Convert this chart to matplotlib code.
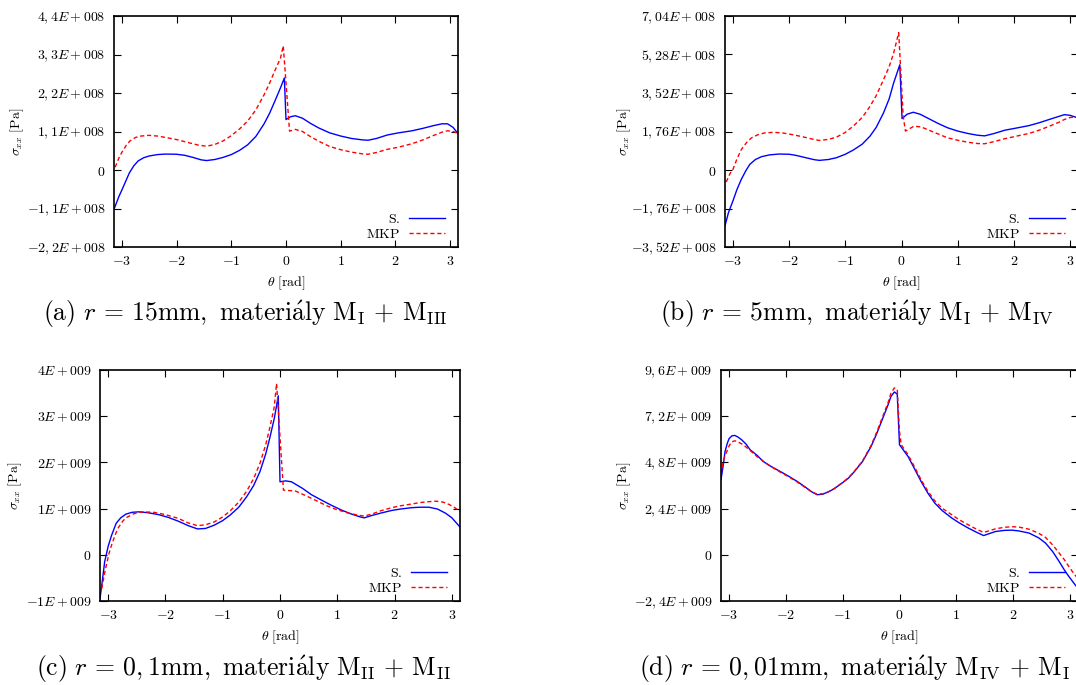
import numpy as np
import matplotlib
matplotlib.use('Agg')
import matplotlib.pyplot as plt

plt.rcParams['mathtext.fontset'] = 'cm'
plt.rcParams['font.family'] = ['DejaVu Serif']

# theta [rad], sigma_xx (units given by scale below)
a_S_th = [-3.1416, -3.05, -3.0, -2.93, -2.86, -2.78, -2.7, -2.6, -2.5, -2.35, -2.2, -2.0, -1.85, -1.7,
          -1.55, -1.45, -1.3, -1.15, -1.0, -0.85, -0.7, -0.55, -0.4, -0.3, -0.2, -0.1, -0.03, 0.0,
          0.08, 0.17, 0.3, 0.45, 0.6, 0.8, 1.0, 1.2, 1.4, 1.5, 1.65, 1.85, 2.05, 2.3, 2.5, 2.7,
          2.85, 2.95, 3.05, 3.1416]
a_S = [-1.12, -0.75, -0.58, -0.33, -0.08, 0.12, 0.26, 0.35, 0.40, 0.44, 0.455, 0.45, 0.42, 0.36,
       0.29, 0.27, 0.30, 0.36, 0.44, 0.56, 0.72, 0.96, 1.32, 1.62, 1.98, 2.35, 2.63, 1.44,
       1.52, 1.55, 1.48, 1.33, 1.2, 1.06, 0.97, 0.9, 0.86, 0.85, 0.9, 1.0, 1.06, 1.12, 1.19, 1.27,
       1.32, 1.32, 1.22, 1.04]
a_M_th = [-3.12, -3.05, -3.0, -2.92, -2.85, -2.75, -2.65, -2.5, -2.35, -2.2, -2.0, -1.8, -1.6, -1.45,
          -1.3, -1.15, -1.0, -0.85, -0.7, -0.55, -0.4, -0.3, -0.2, -0.1, -0.05, 0.065, 0.17, 0.3,
          0.45, 0.6, 0.8, 1.0, 1.2, 1.4, 1.5, 1.65, 1.85, 2.05, 2.3, 2.5, 2.7, 2.85, 2.95, 3.05, 3.1416]
a_M = [0.08, 0.35, 0.5, 0.7, 0.83, 0.93, 0.97, 0.99, 0.97, 0.93, 0.87, 0.79, 0.71, 0.68,
       0.73, 0.83, 0.98, 1.17, 1.4, 1.72, 2.15, 2.48, 2.85, 3.2, 3.55, 1.11, 1.16, 1.1,
       0.95, 0.82, 0.67, 0.58, 0.51, 0.46, 0.45, 0.5, 0.59, 0.65, 0.75, 0.86, 0.99, 1.08, 1.12, 1.1, 1.05]

b_S_th = [-3.1416, -3.08, -3.0, -2.93, -2.85, -2.77, -2.7, -2.6, -2.49, -2.35, -2.18, -2.0, -1.88, -1.7,
          -1.55, -1.46, -1.3, -1.16, -1.0, -0.86, -0.7, -0.56, -0.45, -0.32, -0.22, -0.14, -0.03, 0.01,
          0.1, 0.21, 0.33, 0.46, 0.65, 0.82, 1.0, 1.18, 1.35, 1.48, 1.65, 1.84, 2.05, 2.27, 2.45, 2.63,
          2.8, 2.9, 3.0, 3.1416]
b_S = [-2.55, -1.95, -1.41, -0.9, -0.42, -0.03, 0.26, 0.48, 0.61, 0.69, 0.73, 0.72, 0.67, 0.56,
       0.47, 0.44, 0.48, 0.56, 0.72, 0.91, 1.18, 1.55, 1.95, 2.61, 3.25, 3.98, 4.81, 2.35,
       2.55, 2.64, 2.55, 2.38, 2.13, 1.93, 1.78, 1.67, 1.59, 1.56, 1.67, 1.82, 1.92, 2.03, 2.16, 2.31,
       2.45, 2.53, 2.5, 2.38]
b_M_th = [-3.12, -3.05, -3.0, -2.93, -2.85, -2.75, -2.67, -2.55, -2.43, -2.28, -2.13, -1.95, -1.76, -1.6,
          -1.46, -1.3, -1.16, -1.0, -0.86, -0.7, -0.56, -0.45, -0.32, -0.22, -0.14, -0.05, 0.03, 0.07,
          0.22, 0.35, 0.46, 0.65, 0.82, 1.0, 1.18, 1.35, 1.48, 1.65, 1.84, 2.05, 2.27, 2.45, 2.63,
          2.8, 2.9, 3.0, 3.1416]
b_M = [-0.55, -0.15, 0.03, 0.5, 0.94, 1.28, 1.47, 1.62, 1.70, 1.72, 1.70, 1.62, 1.52, 1.42,
       1.35, 1.40, 1.50, 1.72, 2.0, 2.4, 2.91, 3.4, 4.13, 4.72, 5.34, 6.28, 2.46, 1.78,
       2.0, 1.97, 1.85, 1.65, 1.47, 1.36, 1.27, 1.21, 1.2, 1.3, 1.43, 1.55, 1.67, 1.82, 2.0,
       2.18, 2.31, 2.4, 2.43]

c_S_th = [-3.1416, -3.1, -3.06, -3.0, -2.94, -2.86, -2.78, -2.69, -2.58, -2.46, -2.3, -2.12, -1.95, -1.78,
          -1.6, -1.44, -1.3, -1.15, -1.0, -0.87, -0.72, -0.58, -0.46, -0.35, -0.25, -0.18, -0.1, -0.03,
          0.0, 0.1, 0.2, 0.39, 0.55, 0.73, 0.9, 1.07, 1.25, 1.4, 1.47, 1.6, 1.75, 1.95, 2.1, 2.3, 2.44,
          2.6, 2.75, 2.89, 3.0, 3.1416]
c_S = [-0.95, -0.55, -0.15, 0.18, 0.42, 0.68, 0.8, 0.88, 0.92, 0.93, 0.91, 0.87, 0.81, 0.73,
       0.63, 0.56, 0.57, 0.64, 0.74, 0.86, 1.03, 1.26, 1.5, 1.80, 2.18, 2.52, 2.95, 3.44,
       1.58, 1.6, 1.58, 1.44, 1.3, 1.18, 1.07, 0.97, 0.88, 0.82, 0.80, 0.85, 0.90, 0.96, 0.99, 1.02, 1.03,
       1.03, 0.99, 0.9, 0.8, 0.6]
c_M_th = [-3.11, -3.07, -3.03, -2.98, -2.94, -2.88, -2.83, -2.75, -2.69, -2.55, -2.4, -2.2, -2.0, -1.78,
          -1.6, -1.44, -1.3, -1.15, -1.0, -0.87, -0.72, -0.58, -0.46, -0.35, -0.25, -0.18, -0.1, -0.06,
          0.06, 0.27, 0.45, 0.62, 0.8, 0.96, 1.2, 1.4, 1.47, 1.6, 1.75, 1.95, 2.1, 2.3, 2.44, 2.6,
          2.72, 2.85, 2.95, 3.05, 3.1416]
c_M = [-0.73, -0.45, -0.22, 0.05, 0.21, 0.42, 0.57, 0.72, 0.80, 0.89, 0.93, 0.92, 0.87, 0.79,
       0.69, 0.63, 0.65, 0.71, 0.82, 0.95, 1.14, 1.38, 1.65, 1.98, 2.38, 2.74, 3.2, 3.71,
       1.40, 1.38, 1.28, 1.18, 1.07, 0.99, 0.9, 0.85, 0.84, 0.88, 0.95, 1.02, 1.06, 1.1, 1.13, 1.15,
       1.16, 1.14, 1.09, 1.02, 0.94]

d_S_th = [-3.1416, -3.1, -3.07, -3.03, -3.0, -2.95, -2.9, -2.85, -2.78, -2.7, -2.63, -2.5, -2.4, -2.25,
          -2.1, -1.95, -1.8, -1.65, -1.55, -1.45, -1.35, -1.25, -1.15, -1.0, -0.9, -0.8, -0.65, -0.5,
          -0.4, -0.27, -0.2, -0.15, -0.09, -0.04, 0.0, 0.15, 0.25, 0.38, 0.5, 0.62, 0.75, 0.92, 1.05,
          1.21, 1.35, 1.48, 1.58, 1.69, 1.85, 1.98, 2.1, 2.28, 2.45, 2.57, 2.7, 2.81, 2.9, 2.96,
          3.05, 3.1416]
d_S = [3.9, 4.7, 5.37, 5.8, 6.03, 6.18, 6.2, 6.13, 5.98, 5.75, 5.46, 5.15, 4.85, 4.57,
       4.33, 4.08, 3.81, 3.5, 3.28, 3.12, 3.15, 3.27, 3.43, 3.75, 3.98, 4.3, 4.85, 5.63,
       6.3, 7.28, 7.8, 8.23, 8.46, 8.35, 5.72, 5.11, 4.55, 3.81, 3.2, 2.69, 2.3, 1.91, 1.66,
       1.39, 1.18, 1.0, 1.1, 1.21, 1.27, 1.28, 1.24, 1.13, 0.88, 0.61, 0.15, -0.35, -0.78, -1.04,
       -1.4, -1.75]
d_M_th = [-3.1416, -3.1, -3.05, -3.0, -2.96, -2.9, -2.87, -2.75, -2.63, -2.51, -2.3, -2.1, -1.95, -1.8,
          -1.65, -1.55, -1.45, -1.35, -1.25, -1.15, -1.0, -0.9, -0.8, -0.65, -0.5, -0.4, -0.27, -0.2,
          -0.15, -0.09, -0.04, 0.0, 0.03, 0.15, 0.25, 0.38, 0.5, 0.62, 0.75, 0.92, 1.05, 1.21, 1.35,
          1.48, 1.58, 1.69, 1.85, 1.98, 2.1, 2.28, 2.45, 2.57, 2.7, 2.81, 2.9, 2.96, 3.05, 3.1416]
d_M = [4.2, 4.9, 5.29, 5.65, 5.86, 5.92, 5.9, 5.72, 5.42, 5.11, 4.65, 4.3, 4.05, 3.78,
       3.48, 3.28, 3.15, 3.17, 3.28, 3.44, 3.76, 4.0, 4.32, 4.88, 5.68, 6.38, 7.38, 7.92,
       8.4, 8.67, 8.6, 6.41, 5.72, 5.2, 4.65, 3.9, 3.3, 2.81, 2.42, 2.08, 1.82, 1.56, 1.34,
       1.16, 1.25, 1.35, 1.43, 1.46, 1.44, 1.33, 1.12, 0.9, 0.5, 0.09, -0.25, -0.52, -0.9, -1.25]

scales = [1e8, 1e8, 1e9, 1e9]
yticks = [[-2.2, -1.1, 0, 1.1, 2.2, 3.3, 4.4],
          [-3.52, -1.76, 0, 1.76, 3.52, 5.28, 7.04],
          [-1, 0, 1, 2, 3, 4],
          [-2.4, 0, 2.4, 4.8, 7.2, 9.6]]
ylabels = [['-2,2E+008', '-1,1E+008', '0', '1,1E+008', '2,2E+008', '3,3E+008', '4,4E+008'],
           ['-3,52E+008', '-1,76E+008', '0', '1,76E+008', '3,52E+008', '5,28E+008', '7,04E+008'],
           ['-1E+009', '0', '1E+009', '2E+009', '3E+009', '4E+009'],
           ['-2,4E+009', '0', '2,4E+009', '4,8E+009', '7,2E+009', '9,6E+009']]
xticks = [-3, -2, -1, 0, 1, 2, 3]
cap_parts = [('a', '15', 'I', 'III'), ('b', '5', 'I', 'IV'),
             ('c', '0,1', 'II', 'II'), ('d', '0,01', 'IV', 'I')]
captions = [r'$\mathrm{(%s)}\ r\,=\,%s\mathrm{mm},\ \mathrm{materi\acute{a}ly}\ '
            r'\mathrm{M}_{\mathrm{%s}}\,+\,\mathrm{M}_{\mathrm{%s}}$' % c for c in cap_parts]

series = [(a_S_th, a_S, a_M_th, a_M), (b_S_th, b_S, b_M_th, b_M),
          (c_S_th, c_S, c_M_th, c_M), (d_S_th, d_S, d_M_th, d_M)]

W, H = 1076, 685
fig = plt.figure(figsize=(W / 100, H / 100), dpi=100)

# axes boxes in pixels: left, right, top, bottom
boxes = [(114, 458, 16, 247), (725, 1078, 16, 247),
         (100, 460, 370, 601), (721, 1078, 370, 601)]
ylab_x = [17, 624, 15, 624]
xlab_y = [283, 283, 637, 637]
cap_pos = [(245, 314), (857, 314), (243, 669), (855, 669)]

for i, (l, r, t, b) in enumerate(boxes):
    ax = fig.add_axes([l / W, 1 - b / H, (r - l) / W, (b - t) / H])
    sth, s, mth, m = series[i]
    sc = scales[i]
    ax.plot(sth, np.array(s) * sc, color='#0000ff', lw=1.0, label=r'$\mathrm{S.}$')
    ax.plot(mth, np.array(m) * sc, color='#ff0000', lw=1.0, ls=(0, (3, 2)), label=r'$\mathrm{MKP}$')
    ax.set_xlim(-np.pi, np.pi)
    ax.set_ylim(yticks[i][0] * sc, yticks[i][-1] * sc)
    ax.set_xticks(xticks)
    ax.set_xticklabels(['$%d$' % v for v in xticks])
    ax.set_yticks(np.array(yticks[i]) * sc)
    ax.set_yticklabels(['$%s$' % v for v in ylabels[i]])
    ax.tick_params(direction='in', length=5, width=0.8, top=True, right=True,
                   labelsize=10, pad=6, colors='black')
    ax.tick_params(axis='x', pad=5)
    for sp in ax.spines.values():
        sp.set_linewidth(1.2)
    ax.legend(loc='lower right', bbox_to_anchor=(1 - 13 / (r - l), 0.025),
              markerfirst=False, frameon=False, fontsize=10, handlelength=2.6,
              handletextpad=0.6, labelspacing=0.1, borderpad=0, borderaxespad=0)
    fig.text(ylab_x[i] / W, 1 - (t + b) / 2 / H, r'$\sigma_{xx}\ [\mathrm{Pa}]$',
             rotation=90, ha='center', va='center', fontsize=10)
    x0 = l + (r - l) / 2
    fig.text(x0 / W, 1 - xlab_y[i] / H, r'$\theta\ [\mathrm{rad}]$',
             ha='center', va='center', fontsize=10)
    cx, cy = cap_pos[i]
    fig.text(cx / W, 1 - cy / H, captions[i], ha='center', va='center', fontsize=18.5)

fig.savefig('out.png', dpi=100)
